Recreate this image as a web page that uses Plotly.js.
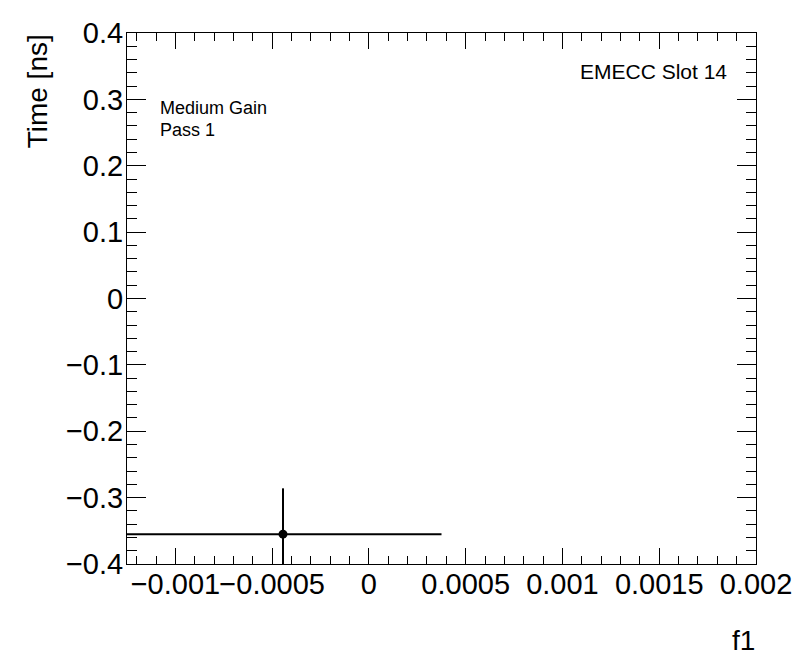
<!DOCTYPE html>
<html>
<head>
<meta charset="utf-8">
<script src="https://cdn.plot.ly/plotly-3.0.1.min.js"></script>
<style>html,body{margin:0;padding:0;background:#fff;}</style>
</head>
<body>
<div id="chart" style="width:796px;height:672px;"></div>
<script>
// Data
const xValues = [-0.000444];
const yValues = [-0.355];
const xErrors = [0.000819];
const yErrors = [0.069];
const xTickVals = [-0.001, -0.0005, 0, 0.0005, 0.001, 0.0015, 0.002];
const xTickText = ["\u22120.001", "\u22120.0005", "0", "0.0005", "0.001", "0.0015", "0.002"];
const yTickVals = [-0.4, -0.3, -0.2, -0.1, 0, 0.1, 0.2, 0.3, 0.4];
const yTickText = ["\u22120.4", "\u22120.3", "\u22120.2", "\u22120.1", "0", "0.1", "0.2", "0.3", "0.4"];

const FONT = "Liberation Sans, Arial, Helvetica, sans-serif";

const trace = {
  type: 'scatter',
  mode: 'markers',
  x: xValues,
  y: yValues,
  marker: {color: '#000', size: 9, symbol: 'circle'},
  error_x: {type: 'data', array: xErrors, symmetric: true, color: '#000', thickness: 2, width: 0},
  error_y: {type: 'data', array: yErrors, symmetric: true, color: '#000', thickness: 2, width: 0},
  showlegend: false,
  hoverinfo: 'none'
};

const layout = {
  width: 796,
  height: 672,
  margin: {l: 127, r: 40, t: 33, b: 108, pad: 0},
  paper_bgcolor: '#fff',
  plot_bgcolor: '#fff',
  font: {family: FONT, color: '#000'},
  xaxis: {
    range: [-0.00125, 0.002],
    tickmode: 'array',
    tickvals: xTickVals,
    ticktext: xTickText,
    tickangle: 0,
    ticks: 'inside',
    ticklen: 16,
    tickwidth: 1,
    tickcolor: '#000',
    minor: {dtick: 0.0001, ticks: 'inside', ticklen: 8, tickcolor: '#000', tickwidth: 1, showgrid: false},
    showline: true,
    linecolor: '#000',
    linewidth: 1,
    mirror: 'ticks',
    showgrid: false,
    zeroline: false,
    ticklabelstandoff: -6,
    tickfont: {family: FONT, size: 29, color: '#000'}
  },
  yaxis: {
    range: [-0.4, 0.4],
    tickmode: 'array',
    tickvals: yTickVals,
    ticktext: yTickText,
    tickangle: 0,
    ticks: 'inside',
    ticklen: 19,
    tickwidth: 1,
    tickcolor: '#000',
    minor: {dtick: 0.02, ticks: 'inside', ticklen: 10, tickcolor: '#000', tickwidth: 1, showgrid: false},
    showline: true,
    linecolor: '#000',
    linewidth: 1,
    mirror: 'ticks',
    showgrid: false,
    zeroline: false,
    ticklabelstandoff: -3,
    tickfont: {family: FONT, size: 29, color: '#000'}
  },
  annotations: [
    {xref: 'paper', yref: 'paper', x: 0.957, y: 0.927, xanchor: 'right', yanchor: 'middle',
     text: 'EMECC Slot 14', showarrow: false, font: {family: FONT, size: 21, color: '#000'}},
    {xref: 'paper', yref: 'paper', x: 0.049, y: 0.859, xanchor: 'left', yanchor: 'middle',
     text: 'Medium Gain', showarrow: false, font: {family: FONT, size: 18, color: '#000'}},
    {xref: 'paper', yref: 'paper', x: 0.049, y: 0.818, xanchor: 'left', yanchor: 'middle',
     text: 'Pass 1', showarrow: false, font: {family: FONT, size: 18, color: '#000'}},
    {xref: 'paper', yref: 'paper', x: 1.0016, y: -0.145, xanchor: 'right', yanchor: 'middle',
     text: 'f1', showarrow: false, font: {family: FONT, size: 28, color: '#000'}},
    {xref: 'paper', yref: 'paper', x: -0.142, y: 1.0006, xanchor: 'center', yanchor: 'top',
     text: 'Time [ns]', textangle: -90, showarrow: false, font: {family: FONT, size: 28, color: '#000'}}
  ]
};

Plotly.newPlot('chart', [trace], layout, {staticPlot: true, displayModeBar: false});
</script>
</body>
</html>
